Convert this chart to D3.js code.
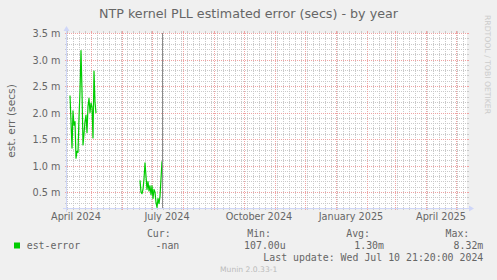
<!DOCTYPE html>
<html><head><meta charset="utf-8">
<script src="https://cdn.jsdelivr.net/npm/d3@7"></script>
<style>
html,body{margin:0;padding:0;background:#F0F0F0;}
svg{display:block;}
</style></head><body>
<svg id="c" width="497" height="280"></svg>
<script>
// ---------- data ----------
const title = "NTP kernel PLL estimated error (secs) - by year";
const yAxisTitle = "est. err (secs)";
const yTickValues = [0.5, 1.0, 1.5, 2.0, 2.5, 3.0, 3.5];           // milliseconds
const yTickLabels = ["0.5 m", "1.0 m", "1.5 m", "2.0 m", "2.5 m", "3.0 m", "3.5 m"];
const xLabelMonths = ["2024-04-01", "2024-07-01", "2024-10-01", "2025-01-01", "2025-04-01"];
const xTickLabels = ["April 2024", "July 2024", "October 2024", "January 2025", "April 2025"];
const seriesName = "est-error";
// first run of daily values (ms), starting on seg1Start
const seg1Start = "2024-04-10";
const seg1Values = [2.32, 1.83, 1.33, 2.03, 1.76, 1.83, 1.14, 1.27, 1.25, 1.90, 2.40, 3.17, 2.40, 1.39,
                    1.60, 1.83, 1.95, 1.62, 2.12, 2.27, 2.00, 2.18, 2.10, 1.52, 2.78, 2.20, 1.99];
// second run of daily values (ms), starting on seg2Start
const seg2Start = "2024-06-19";
const seg2Values = [0.72, 0.50, 0.47, 0.55, 0.75, 1.05, 0.80, 0.55, 0.70, 0.52, 0.62, 0.45, 0.62, 0.38,
                    0.55, 0.50, 0.30, 0.21, 0.38, 0.28, 0.42, 0.75, 1.08];
const lastUpdate = "2024-07-10 21:20";
const legendHeaders = ["Cur:", "Min:", "Avg:", "Max:"];
const legendValues = ["-nan", "107.00u", "1.30m", "8.32m"];
const lastUpdateText = "Last update: Wed Jul 10 21:20:00 2024";
const footerText = "Munin 2.0.33-1";
const watermarkText = "RRDTOOL / TOBI OETIKER";
const domainStart = "2024-04-07", domainEnd = "2025-05-12";
const yDomain = [0.2, 3.5];

// ---------- layout ----------
const X0 = 67, X1 = 467, Y0 = 208, Y1 = 33;
const pd = d3.timeParse("%Y-%m-%d");
const pdt = d3.timeParse("%Y-%m-%d %H:%M");
const x = d3.scaleTime().domain([pd(domainStart), pd(domainEnd)]).range([X0, X1]);
const y = d3.scaleLinear().domain(yDomain).range([Y0, Y1]);

const svg = d3.select("#c");
const FONT = "'DejaVu Sans', sans-serif";
const MONO = "'DejaVu Sans Mono', monospace";
const TXT = "#666666";
const GRID = "#c9c9c9", MGRID = "#efa3a3";
const AXIS = "#CFD6F8";

svg.append("rect").attr("width", 497).attr("height", 280).attr("fill", "#F0F0F0");
svg.append("rect").attr("x", X0).attr("y", Y1).attr("width", X1 - X0).attr("height", Y0 - Y1).attr("fill", "#FFFFFF");

const g = svg.append("g");
// minor horizontal grid
const yMinor = d3.ticks(yDomain[0], yDomain[1], 33).filter(v => v > yDomain[0] + 1e-9 && Math.abs(v * 2 - Math.round(v * 2)) > 1e-6);
yMinor.forEach(v => {
  const yy = Math.round(y(v)) + 0.5;
  g.append("line").attr("x1", X0).attr("x2", X1).attr("y1", yy).attr("y2", yy)
    .attr("stroke", GRID).attr("stroke-dasharray", "1,1");
  g.append("line").attr("x1", X0 - 2).attr("x2", X0).attr("y1", yy).attr("y2", yy).attr("stroke", GRID);
  g.append("line").attr("x1", X1).attr("x2", X1 + 2).attr("y1", yy).attr("y2", yy).attr("stroke", GRID);
});
// minor vertical grid (every 6 days)
const xMinor = d3.timeDay.range(pd(domainStart), pd(domainEnd), 6);
xMinor.forEach(d => {
  const xx = Math.round(x(d)) + 0.5;
  if (xx <= X0 || xx >= X1) return;
  g.append("line").attr("x1", xx).attr("x2", xx).attr("y1", Y1).attr("y2", Y0)
    .attr("stroke", GRID).attr("stroke-dasharray", "1,1");
  g.append("line").attr("x1", xx).attr("x2", xx).attr("y1", Y0).attr("y2", Y0 + 2).attr("stroke", GRID);
  g.append("line").attr("x1", xx).attr("x2", xx).attr("y1", Y1 - 2).attr("y2", Y1).attr("stroke", GRID);
});
// major horizontal grid
yTickValues.forEach(v => {
  const yy = Math.round(y(v)) + 0.5;
  g.append("line").attr("x1", X0).attr("x2", X1).attr("y1", yy).attr("y2", yy)
    .attr("stroke", MGRID).attr("stroke-dasharray", "1,1");
  g.append("line").attr("x1", X0 - 2).attr("x2", X0).attr("y1", yy).attr("y2", yy).attr("stroke", MGRID);
  g.append("line").attr("x1", X1).attr("x2", X1 + 2).attr("y1", yy).attr("y2", yy).attr("stroke", MGRID);
});
// major vertical grid (month starts)
const xMajor = d3.timeMonth.range(pd(domainStart), pd(domainEnd));
xMajor.forEach(d => {
  const xx = Math.round(x(d)) + 0.5;
  g.append("line").attr("x1", xx).attr("x2", xx).attr("y1", Y1).attr("y2", Y0)
    .attr("stroke", MGRID).attr("stroke-dasharray", "1,1");
  g.append("line").attr("x1", xx).attr("x2", xx).attr("y1", Y0).attr("y2", Y0 + 2).attr("stroke", MGRID);
  g.append("line").attr("x1", xx).attr("x2", xx).attr("y1", Y1 - 2).attr("y2", Y1).attr("stroke", MGRID);
});

// data
function seg(start, vals) {
  const s = pd(start);
  return vals.map((v, i) => ({ date: d3.timeDay.offset(s, i), v }));
}
const segs = [seg(seg1Start, seg1Values), seg(seg2Start, seg2Values)];
svg.append("clipPath").attr("id", "clip").append("rect")
  .attr("x", X0).attr("y", Y1).attr("width", X1 - X0).attr("height", Y0 - Y1);
const line = d3.line().x(d => x(d.date)).y(d => y(d.v));
svg.append("g").attr("clip-path", "url(#clip)").selectAll("path").data(segs).join("path")
  .attr("d", line).attr("fill", "none").attr("stroke", "#00CC00").attr("stroke-width", 1.2)
  .attr("stroke-linejoin", "round");

// last update vertical rule
const lu = Math.round(x(pdt(lastUpdate))) + 0.5;
svg.append("line").attr("x1", lu).attr("x2", lu).attr("y1", Y1).attr("y2", Y0)
  .attr("stroke", "#8a8a8a").attr("stroke-width", 1);

// axes
svg.append("line").attr("x1", X0 - 4).attr("x2", X1 + 4).attr("y1", Y0 + 0.5).attr("y2", Y0 + 0.5).attr("stroke", AXIS);
svg.append("line").attr("x1", X0 - 0.5).attr("x2", X0 - 0.5).attr("y1", Y0 + 4).attr("y2", Y1 - 4).attr("stroke", AXIS);
svg.append("path").attr("d", `M${X1 + 2},${Y0 - 2.5} L${X1 + 2},${Y0 + 3.5} L${X1 + 7},${Y0 + 0.5} Z`).attr("fill", AXIS);
svg.append("path").attr("d", `M${X0 - 3.5},${Y1 - 2} L${X0 + 2.5},${Y1 - 2} L${X0 - 0.5},${Y1 - 7} Z`).attr("fill", AXIS);

// y tick labels
svg.append("g").selectAll("text").data(yTickValues).join("text")
  .attr("x", 60.5).attr("y", v => Math.round(y(v)) + 4)
  .attr("text-anchor", "end").attr("font-family", FONT).attr("font-size", 9.7).attr("fill", TXT)
  .text((v, i) => yTickLabels[i]);
// x tick labels, centered mid-month
svg.append("g").selectAll("text").data(xLabelMonths).join("text")
  .attr("x", d => x(d3.timeDay.offset(pd(d), 15)))
  .attr("y", 220).attr("text-anchor", "middle").attr("font-family", FONT).attr("font-size", 9.7).attr("fill", TXT)
  .text((d, i) => xTickLabels[i]);

// title
svg.append("text").attr("x", 248.5).attr("y", 18).attr("text-anchor", "middle")
  .attr("font-family", FONT).attr("font-size", 12.7).attr("fill", TXT).text(title);
// y axis title
svg.append("text").attr("transform", "translate(15,121) rotate(-90)").attr("text-anchor", "middle")
  .attr("font-family", FONT).attr("font-size", 10.7).attr("fill", TXT).text(yAxisTitle);
// watermark
svg.append("text").attr("transform", "translate(485,15) rotate(90)").attr("text-anchor", "start")
  .attr("font-family", FONT).attr("font-size", 7.7).attr("fill", "#cccccc").text(watermarkText);

// legend
const hdrEnds = [170.7, 271, 370, 469.3];
const valEnds = [179.3, 285.7, 384, 483.3];
svg.append("g").selectAll("text").data(legendHeaders).join("text")
  .attr("x", (d, i) => hdrEnds[i]).attr("y", 236.7).attr("text-anchor", "end")
  .attr("font-family", MONO).attr("font-size", 9.9).attr("fill", TXT).text(d => d);
svg.append("rect").attr("x", 14).attr("y", 242.5).attr("width", 6).attr("height", 6).attr("fill", "#00CC00");
svg.append("text").attr("x", 26.7).attr("y", 248.5).attr("font-family", MONO).attr("font-size", 9.9)
  .attr("fill", TXT).text(seriesName);
svg.append("g").selectAll("text").data(legendValues).join("text")
  .attr("x", (d, i) => valEnds[i]).attr("y", 248.5).attr("text-anchor", "end")
  .attr("font-family", MONO).attr("font-size", 9.9).attr("fill", TXT).text(d => d);
svg.append("text").attr("x", 483.3).attr("y", 260.7).attr("text-anchor", "end")
  .attr("font-family", MONO).attr("font-size", 9.9).attr("fill", TXT).text(lastUpdateText);
svg.append("text").attr("x", 248.7).attr("y", 271.7).attr("text-anchor", "middle")
  .attr("font-family", FONT).attr("font-size", 7.6).attr("fill", "#bbbbbb").text(footerText);
</script>
</body></html>
